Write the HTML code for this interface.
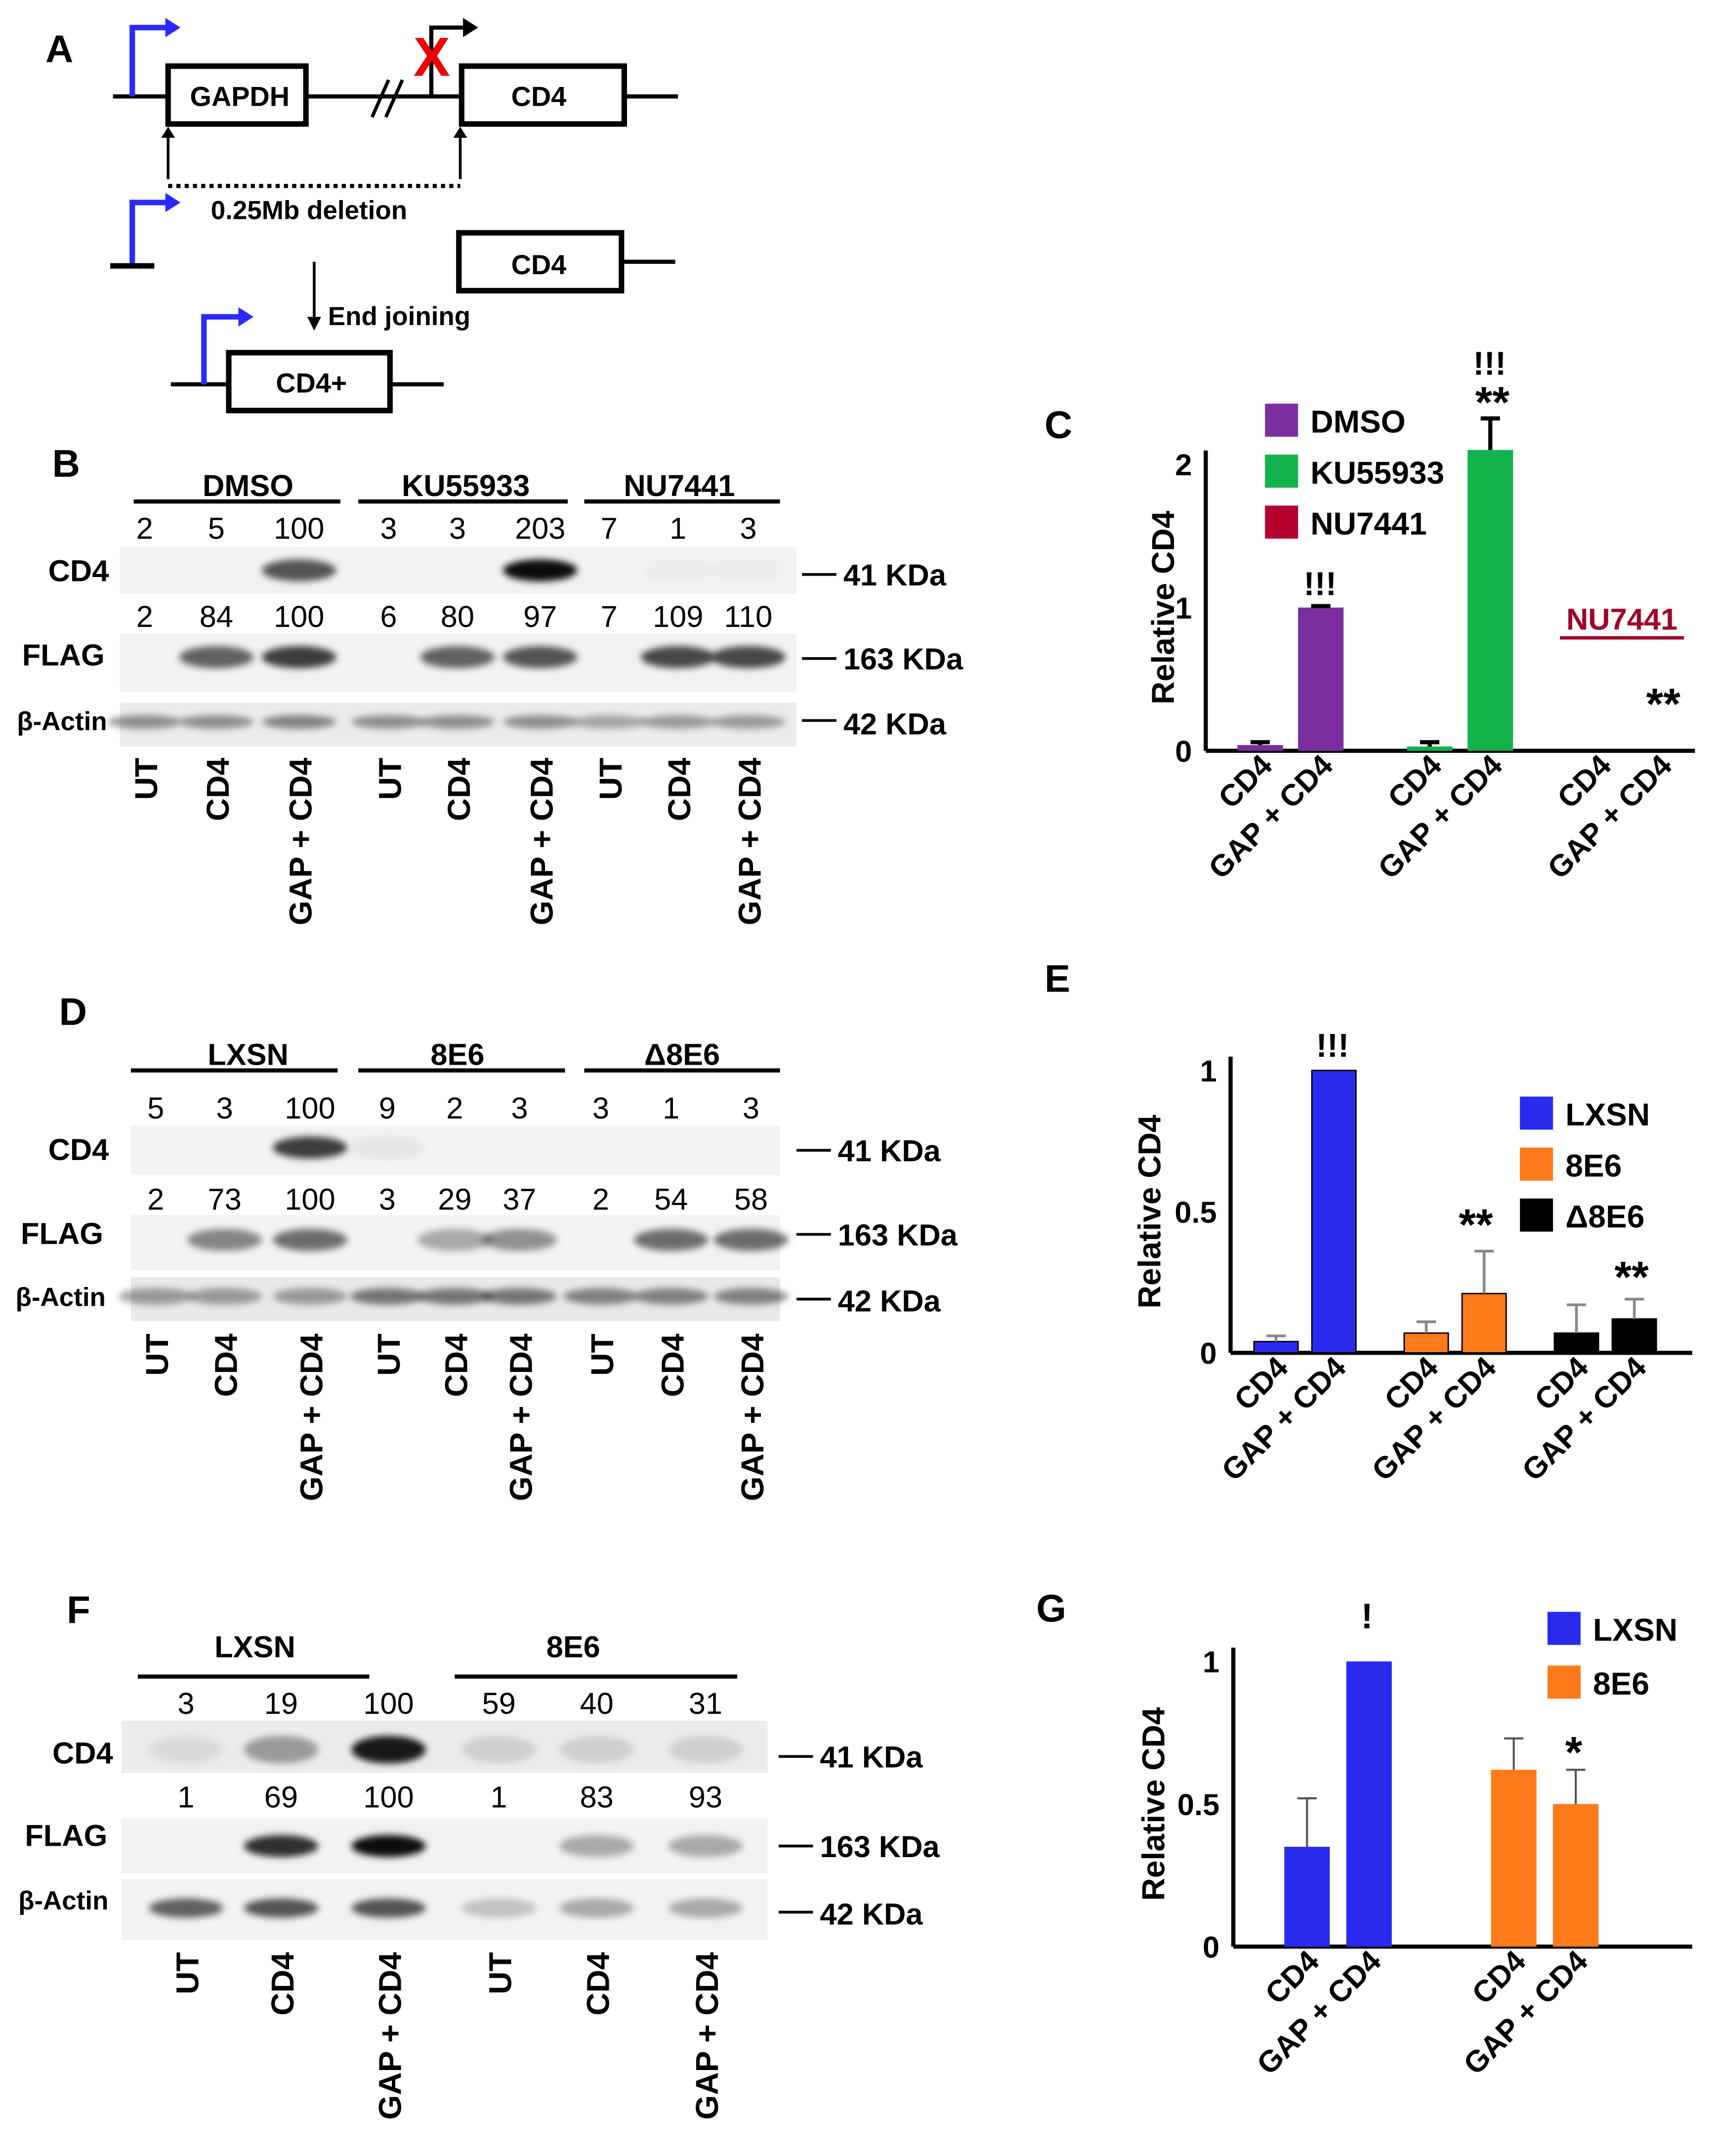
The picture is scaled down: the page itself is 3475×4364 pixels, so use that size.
<!DOCTYPE html>
<html><head><meta charset="utf-8"><style>
html,body{margin:0;padding:0;background:#fff}
svg{display:block}
text{font-family:"Liberation Sans",Arial,sans-serif}
.b{font-weight:bold}
</style></head><body>
<svg id="fig" xmlns="http://www.w3.org/2000/svg" width="3475" height="4364" viewBox="0 0 1246 1565" preserveAspectRatio="none">
<defs>
<filter id="blur" x="-50%" y="-50%" width="200%" height="200%"><feGaussianBlur stdDeviation="4"/></filter>
<filter id="blur2" x="-50%" y="-50%" width="200%" height="200%"><feGaussianBlur stdDeviation="2.5"/></filter>
</defs>

<!-- Panel A -->
<g stroke="#000" fill="none">
<text x="33" y="45" font-size="28" class="b" fill="#000" stroke="none">A</text>
<line x1="82" y1="70" x2="122" y2="70" stroke-width="3"/>
<rect x="122" y="48" width="100" height="42" stroke-width="4"/>
<line x1="222" y1="70" x2="335" y2="70" stroke-width="3"/>
<line x1="270" y1="85" x2="282" y2="58" stroke-width="2.5"/><line x1="280" y1="85" x2="292" y2="58" stroke-width="2.5"/>
<rect x="335" y="48" width="118" height="42" stroke-width="4"/>
<line x1="453" y1="70" x2="492" y2="70" stroke-width="3"/>
<polyline points="96,70 96,20 122,20" stroke="#2a2aff" stroke-width="4"/>
<polygon points="120,13 131,20 120,27" fill="#2a2aff" stroke="none"/>
<polyline points="313,70 313,20 338,20" stroke-width="3"/>
<polygon points="336,13 347,20 336,27" fill="#000" stroke="none"/>
<text x="300" y="55" font-size="40" class="b" fill="#e00" stroke="none">X</text>
<line x1="122" y1="130" x2="122" y2="98" stroke-width="2"/><polygon points="117,100 122,92 127,100" fill="#000" stroke="none"/>
<line x1="334" y1="130" x2="334" y2="98" stroke-width="2"/><polygon points="329,100 334,92 339,100" fill="#000" stroke="none"/>
<line x1="122" y1="135" x2="334" y2="135" stroke-width="3" stroke-dasharray="3,3"/>
<text x="153" y="159" font-size="19" class="b" fill="#000" stroke="none">0.25Mb deletion</text>
<polyline points="96,193 96,147 122,147" stroke="#2a2aff" stroke-width="4"/>
<polygon points="120,140 131,147 120,154" fill="#2a2aff" stroke="none"/>
<line x1="80" y1="193" x2="112" y2="193" stroke-width="4"/>
<rect x="333" y="169" width="118" height="42" stroke-width="4"/>
<line x1="451" y1="190" x2="490" y2="190" stroke-width="3"/>
<line x1="228" y1="190" x2="228" y2="232" stroke-width="2"/><polygon points="223,230 228,240 233,230" fill="#000" stroke="none"/>
<text x="238" y="236" font-size="19" class="b" fill="#000" stroke="none">End joining</text>
<line x1="124" y1="279" x2="166" y2="279" stroke-width="3"/>
<rect x="166" y="256" width="117" height="42" stroke-width="4"/>
<line x1="283" y1="279" x2="322" y2="279" stroke-width="3"/>
<polyline points="148,279 148,230 175,230" stroke="#2a2aff" stroke-width="4"/>
<polygon points="173,223 184,230 173,237" fill="#2a2aff" stroke="none"/>
<g fill="#000" stroke="none" font-size="20" class="b" text-anchor="middle">
<text x="174" y="77">GAPDH</text><text x="391" y="77">CD4</text><text x="391" y="199">CD4</text><text x="226" y="285">CD4+</text>
</g>
</g>

<g id="blots"></g>
<g id="chartC"></g>
<g id="chartE"></g>
<g id="chartG"></g>
</svg>
<script>
const NS="http://www.w3.org/2000/svg";
function el(parent,tag,attrs,txt){const e=document.createElementNS(NS,tag);for(const k in attrs)e.setAttribute(k,attrs[k]);if(txt!==undefined)e.textContent=txt;parent.appendChild(e);return e;}

/* ---------- chart data ---------- */
const cCategories=["DMSO","KU55933","NU7441"];
const cCD4=[0.04,0.03,0];
const cGAP=[1.0,2.1,0];
const cCD4Err=[0.02,0.03,0];
const cGAPErr=[0.01,0.22,0];
const cTicks=[0,1,2];

const eCategories=["LXSN","8E6","Δ8E6"];
const eCD4=[0.04,0.07,0.07];
const eGAP=[1.0,0.21,0.12];
const eCD4Err=[0.02,0.04,0.1];
const eGAPErr=[0,0.15,0.07];
const eTicks=[0,0.5,1];

const gCategories=["LXSN","8E6"];
const gCD4=[0.35,0.62];
const gGAP=[1.0,0.5];
const gCD4Err=[0.17,0.11];
const gGAPErr=[0,0.12];
const gTicks=[0,0.5,1];

/* ---------- blots ---------- */
const B=document.getElementById('blots');
function txt(x,y,s,size,opts){const t=el(B,'text',Object.assign({x:x,y:y,'font-size':size,'text-anchor':'middle',fill:'#000'},opts||{}),s);return t;}
function blot(x,y,w,h,lanes,ints,bandY,bandH,shade){
 el(B,'rect',{x:x,y:y,width:w,height:h,fill:shade||'#f2f2f2'});
 lanes.forEach((lx,i)=>{ if(ints[i]<=0)return;
  const b=el(B,'ellipse',{cx:lx,cy:bandY,rx:27,ry:bandH,fill:'#000','fill-opacity':ints[i],filter:'url(#blur2)'});
  
  
 });
}
function lanesLabels(lanes,y,labels){lanes.forEach((lx,i)=>{const t=el(B,'text',{x:lx+9,y:y,'font-size':23,'font-weight':'bold','text-anchor':'end',transform:`rotate(-90 ${lx+9} ${y})`},labels[i]);});}
const L3=["UT","CD4","GAP + CD4"];

/* Panel B */
txt(48,346,"B",28,{'font-weight':'bold'});
const lanesB=[105,157,217,282,332,392,442,492,543];
[["DMSO",180,97,247],["KU55933",338,260,412],["NU7441",493,424,566]].forEach(g=>{txt(g[1],360,g[0],22,{'font-weight':'bold'});el(B,'line',{x1:g[2],y1:364,x2:g[3],y2:364,stroke:'#000','stroke-width':3});});
["2","5","100","3","3","203","7","1","3"].forEach((s,i)=>txt(lanesB[i],391,s,22));
blot(87,397,491,34,lanesB,[0,0,0.65,0,0,0.95,0,0.02,0.02],414,8);
txt(57,422,"CD4",22,{'font-weight':'bold'});
el(B,'line',{x1:582,y1:417,x2:607,y2:417,stroke:'#000','stroke-width':2});txt(612,425,"41 KDa",22,{'font-weight':'bold','text-anchor':'start'});
["2","84","100","6","80","97","7","109","110"].forEach((s,i)=>txt(lanesB[i],455,s,22));
blot(87,460,491,42,lanesB,[0,0.6,0.75,0,0.6,0.65,0,0.7,0.7],477,8);
txt(46,483,"FLAG",22,{'font-weight':'bold'});
el(B,'line',{x1:582,y1:478,x2:607,y2:478,stroke:'#000','stroke-width':2});txt(612,486,"163 KDa",22,{'font-weight':'bold','text-anchor':'start'});
blot(87,510,491,32,lanesB,[0.4,0.4,0.45,0.4,0.4,0.4,0.3,0.35,0.35],524,5,'#ececec');
txt(45,530,"β-Actin",19,{'font-weight':'bold'});
el(B,'line',{x1:582,y1:523,x2:607,y2:523,stroke:'#000','stroke-width':2});txt(612,533,"42 KDa",22,{'font-weight':'bold','text-anchor':'start'});
lanesLabels(lanesB,550,L3.concat(L3,L3));

/* Panel D */
txt(53,744,"D",28,{'font-weight':'bold'});
const lanesD=[113,163,225,281,330,377,436,487,545];
[["LXSN",180,95,245],["8E6",332,260,410],["Δ8E6",495,424,566]].forEach(g=>{txt(g[1],773,g[0],22,{'font-weight':'bold'});el(B,'line',{x1:g[2],y1:777,x2:g[3],y2:777,stroke:'#000','stroke-width':3});});
["5","3","100","9","2","3","3","1","3"].forEach((s,i)=>txt(lanesD[i],812,s,22));
blot(95,817,471,36,lanesD,[0,0,0.75,0.05,0,0,0,0,0],833,8);
txt(57,842,"CD4",22,{'font-weight':'bold'});
el(B,'line',{x1:578,y1:835,x2:603,y2:835,stroke:'#000','stroke-width':2});txt(608,843,"41 KDa",22,{'font-weight':'bold','text-anchor':'start'});
["2","73","100","3","29","37","2","54","58"].forEach((s,i)=>txt(lanesD[i],878,s,22));
blot(95,882,471,40,lanesD,[0,0.45,0.55,0,0.3,0.4,0,0.55,0.55],900,8);
txt(45,903,"FLAG",22,{'font-weight':'bold'});
el(B,'line',{x1:578,y1:896,x2:603,y2:896,stroke:'#000','stroke-width':2});txt(608,904,"163 KDa",22,{'font-weight':'bold','text-anchor':'start'});
blot(95,927,471,32,lanesD,[0.35,0.35,0.35,0.5,0.5,0.5,0.45,0.45,0.45],941,6,'#e9e9e9');
txt(44,948,"β-Actin",19,{'font-weight':'bold'});
el(B,'line',{x1:578,y1:943,x2:603,y2:943,stroke:'#000','stroke-width':2});txt(608,952,"42 KDa",22,{'font-weight':'bold','text-anchor':'start'});
lanesLabels(lanesD,968,L3.concat(L3,L3));

/* Panel F */
txt(57,1178,"F",28,{'font-weight':'bold'});
const lanesF=[135,204,282,362,433,512];
[["LXSN",185,100,268],["8E6",416,330,535]].forEach(g=>{txt(g[1],1203,g[0],22,{'font-weight':'bold'});el(B,'line',{x1:g[2],y1:1217,x2:g[3],y2:1217,stroke:'#000','stroke-width':3});});
["3","19","100","59","40","31"].forEach((s,i)=>txt(lanesF[i],1244,s,22));
blot(88,1249,469,38,lanesF,[0.08,0.35,0.9,0.12,0.12,0.12],1270,10,'#ececec');
txt(60,1280,"CD4",22,{'font-weight':'bold'});
el(B,'line',{x1:565,y1:1275,x2:590,y2:1275,stroke:'#000','stroke-width':2});txt(595,1283,"41 KDa",22,{'font-weight':'bold','text-anchor':'start'});
["1","69","100","1","83","93"].forEach((s,i)=>txt(lanesF[i],1312,s,22));
blot(88,1320,469,40,lanesF,[0,0.8,0.95,0,0.3,0.3],1340,8);
txt(48,1340,"FLAG",22,{'font-weight':'bold'});
el(B,'line',{x1:565,y1:1340,x2:590,y2:1340,stroke:'#000','stroke-width':2});txt(595,1348,"163 KDa",22,{'font-weight':'bold','text-anchor':'start'});
blot(88,1364,469,44,lanesF,[0.6,0.65,0.65,0.2,0.3,0.3],1385,7);
txt(46,1386,"β-Actin",19,{'font-weight':'bold'});
el(B,'line',{x1:565,y1:1388,x2:590,y2:1388,stroke:'#000','stroke-width':2});txt(595,1397,"42 KDa",22,{'font-weight':'bold','text-anchor':'start'});
lanesLabels(lanesF,1417,L3.concat(L3));

/* ---------- bar charts ---------- */
function chart(gid,cfg){
 const G=document.getElementById(gid);
 const y=v=>cfg.y0-(v/cfg.yMax)*(cfg.y0-cfg.yTop);
 el(G,'line',{x1:cfg.ax,y1:cfg.yTop-10,x2:cfg.ax,y2:cfg.y0,stroke:'#000','stroke-width':3});
 el(G,'line',{x1:cfg.ax,y1:cfg.y0,x2:cfg.axEnd,y2:cfg.y0,stroke:'#000','stroke-width':3});
 cfg.ticks.forEach(t=>{const e=el(G,'text',{x:cfg.ax-10,y:y(t)+8,'font-size':22,'font-weight':'bold','text-anchor':'end'},String(t));});
 const yl=el(G,'text',{x:cfg.ylx,y:(cfg.y0+cfg.yTop)/2,'font-size':23,'font-weight':'bold','text-anchor':'middle',transform:`rotate(-90 ${cfg.ylx} ${(cfg.y0+cfg.yTop)/2})`},"Relative CD4");
 
 cfg.cats.forEach((c,i)=>{
  const gx=cfg.gx0+i*cfg.gStep;
  [[cfg.cd4,cfg.cd4e,0],[cfg.gap,cfg.gape,1]].forEach(([vals,errs,k])=>{
   const x=gx+k*cfg.bOff, v=vals[i];
   if(v>0){
    const r=el(G,'rect',{x:x,y:y(v),width:cfg.bw,height:cfg.y0-y(v),fill:cfg.colors[i],stroke:cfg.stroke?'#000':'none','stroke-width':1});
    
    
    if(errs[i]>0){const cx=x+cfg.bw/2;
     el(G,'line',{x1:cx,y1:y(v),x2:cx,y2:y(v+errs[i]),stroke:cfg.errColor,'stroke-width':cfg.errW});
     el(G,'line',{x1:cx-7,y1:y(v+errs[i]),x2:cx+7,y2:y(v+errs[i]),stroke:cfg.errColor,'stroke-width':cfg.errW});}
   }
   const lx=x+cfg.bw/2+10, ly=cfg.y0+12;
   const t=el(G,'text',{x:lx,y:ly,'font-size':22,'font-weight':'bold','text-anchor':'end',transform:`rotate(-45 ${lx} ${ly})`},k?"GAP + CD4":"CD4");
   
  });
 });
 cfg.legend.forEach((l,i)=>{
  const ly=cfg.legY+i*cfg.legStep;
  const r=el(G,'rect',{x:cfg.legX,y:ly-12,width:24,height:24,fill:cfg.colors[i]});
  
  const t=el(G,'text',{x:cfg.legX+33,y:ly+9,'font-size':23,'font-weight':'bold'},l);
  
 });
 cfg.marks.forEach(m=>{const t=el(G,'text',{x:m[0],y:m[1],'font-size':m[3]||26,'font-weight':'bold','text-anchor':'middle',fill:m[4]||'#000'},m[2]);});
 const pl=el(G,'text',{x:cfg.plx,y:cfg.ply,'font-size':28,'font-weight':'bold'},cfg.panel);
 
}

chart('chartC',{cats:cCategories,cd4:cCD4,gap:cGAP,cd4e:cCD4Err,gape:cGAPErr,ticks:cTicks,yMax:2,y0:545,yTop:337,ax:875,axEnd:1230,ylx:852,
 gx0:898,gStep:123,bOff:44,bw:33,colors:["#7b2f9e","#12b24b","#b5002e"],stroke:false,errColor:'#000',errW:3,
 legend:["DMSO","KU55933","NU7441"],legX:918,legY:305,legStep:37,panel:"C",plx:758,ply:318,
 marks:[[958,432,"!!!",24],[1081,272,"!!!",24],[1083,303,"**",32],[1207,522,"**",32]]});
(function(){const G=document.getElementById('chartC');const t=el(G,'text',{x:1177,y:457,'font-size':22,'font-weight':'bold','text-anchor':'middle',fill:'#a0002a'},"NU7441");el(G,'line',{x1:1132,y1:463,x2:1222,y2:463,stroke:'#a0002a','stroke-width':2.5});})();

chart('chartE',{cats:eCategories,cd4:eCD4,gap:eGAP,cd4e:eCD4Err,gape:eGAPErr,ticks:eTicks,yMax:1,y0:982,yTop:777,ax:893,axEnd:1228,ylx:842,
 gx0:910,gStep:109,bOff:42,bw:32,colors:["#2a2aee","#ff7a1a","#000000"],stroke:true,errColor:'#888',errW:2,
 legend:["LXSN","8E6","Δ8E6"],legX:1103,legY:808,legStep:37,panel:"E",plx:758,ply:720,
 marks:[[967,767,"!!!",24],[1071,900,"**",32],[1184,938,"**",32]]});

chart('chartG',{cats:gCategories,cd4:gCD4,gap:gGAP,cd4e:gCD4Err,gape:gGAPErr,ticks:gTicks,yMax:1,y0:1413,yTop:1206,ax:895,axEnd:1228,ylx:845,
 gx0:932,gStep:150,bOff:45,bw:33,colors:["#2a2aee","#ff7a1a"],stroke:false,errColor:'#555',errW:1.5,
 legend:["LXSN","8E6"],legX:1123,legY:1182,legStep:39,panel:"G",plx:752,ply:1177,
 marks:[[992,1182,"!",26],[1142,1283,"*",32]]});
</script>
</body></html>
